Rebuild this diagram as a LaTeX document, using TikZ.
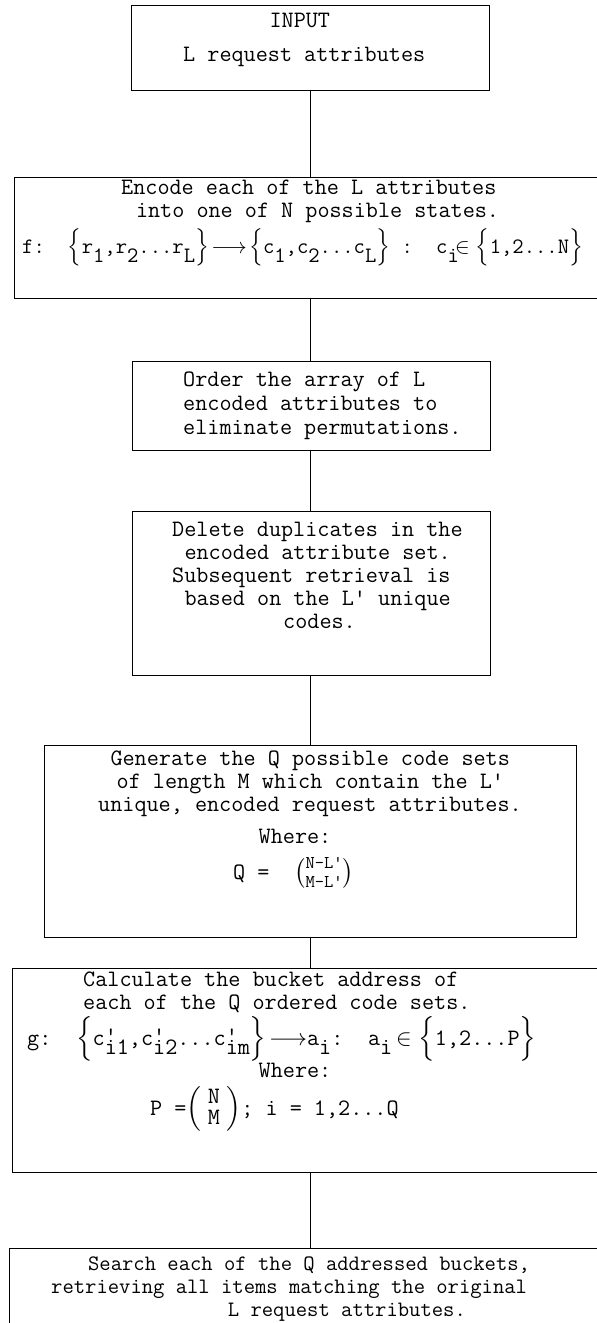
\RequirePackage{fix-cm}
\documentclass[tikz,border=0pt]{standalone}
\usepackage{amsmath}
% typewriter helpers
\newcommand\pad[1]{\hspace*{#1\dimexpr0.525em\relax}}
\newcommand\pr{\textquotesingle}
\newcommand\dn[1]{\raisebox{-0.42em}{#1}}
\newcommand\cp[1]{c\rlap{\raisebox{0.05em}{\pr}}\dn{#1}}
\newcommand\rows[2]{\begin{tabular}[t]{@{}#1@{}}#2\end{tabular}}
\newcommand\tw[2]{\ttfamily\frenchspacing\fontsize{#1}{#2}\selectfont}
\tikzset{
  box/.style={draw, line width=1.3pt, anchor=north west, inner sep=0pt},
  link/.style={line width=1.3pt},
  txt/.style={anchor=base west, inner sep=0pt, font=\tw{23.5}{23}},
  ctxt/.style={txt, anchor=base},
}
\begin{document}
\begin{tikzpicture}[x=1pt,y=-1pt]
\useasboundingbox (0,0) rectangle (597,1323);
\clip (0,0) rectangle (597,1323);

% process boxes
\node[box, minimum width=358, minimum height=85]  (b1) at (131,5)    {};
\node[box, minimum width=590, minimum height=121] (b2) at (14,177)   {};
\node[box, minimum width=358, minimum height=89]  (b3) at (132,361)  {};
\node[box, minimum width=358, minimum height=164] (b4) at (132,511)  {};
\node[box, minimum width=532, minimum height=192] (b5) at (44,745)   {};
\node[box, minimum width=594, minimum height=204] (b6) at (12,968)   {};
\node[box, minimum width=602, minimum height=120] (b7) at (9,1248)   {};

% connectors
\draw[link] (b1.south) -- (b1.south |- b2.north);
\draw[link] (b1.south |- b2.south) -- (b1.south |- b3.north);
\draw[link] (b1.south |- b3.south) -- (b1.south |- b4.north);
\draw[link] (b1.south |- b4.south) -- (b1.south |- b5.north);
\draw[link] (b1.south |- b5.south) -- (b1.south |- b6.north);
\draw[link] (b1.south |- b6.south) -- (b1.south |- b7.north);

% box 1
\node[txt, font=\tw{23.5}{34}] (t1) at (183,27) {\rows{l}{\pad{7}INPUT\\L request attributes}};

% box 2
\node[txt, font=\tw{23.5}{23}] (t2) at (121,194) {\rows{l}{Encode each of the L attributes\\\pad{1.2}into one of N possible states.}};
\node[txt, font=\tw{22}{22}] (f2) at (22,253) {f:\pad{2}$\Bigl\{$r\dn{1},r\dn{2}...r\dn{L}$\Bigr\}\!\longrightarrow\!\Bigl\{$c\dn{1},c\dn{2}...c\dn{L}$\Bigr\}$\pad{1}:\pad{2}c\dn{i}$\!\in\Bigl\{$1,2...N$\Bigr\}$};

% box 3
\node[txt, font=\tw{23.5}{24}] (t3) at (183,386) {\rows{l}{Order the array of L\\encoded attributes to\\eliminate permutations.}};

% box 4
\node[txt] (t4) at (172,536) {\rows{l}{Delete duplicates in the\\\pad{1}encoded attribute set.\\Subsequent retrieval is\\\pad{1}based on the L\pr{} unique\\\pad{9}codes.}};

% box 5
\node[txt] (t5) at (98,765) {\rows{l}{\pad{1}Generate the Q possible code sets\\\pad{1.5}of length M which contain the L\pr\\unique, encoded request attributes.}};
\node[ctxt] (w5) at (295,843) {Where:};
\node[txt] (q5) at (233,879) {Q =\pad{2}$\binom{\text{\fontsize{18}{18}\selectfont N-L\pr}}{\text{\fontsize{18}{18}\selectfont M-L\pr}}$};

% box 6
\node[txt] (t6) at (83,986) {\rows{l}{Calculate the bucket address of\\each of the Q ordered code sets.}};
\node[txt] (f6) at (27,1045) {g:\pad{2}$\Bigl\{$\cp{i1},\cp{i2}...\cp{im}$\Bigr\}\!\longrightarrow$a\dn{i}:\pad{2}a\dn{i}\,$\in\Bigl\{$1,2...P$\Bigr\}$};
\node[ctxt] (w6) at (295,1077) {Where:};
\node[txt] (p6) at (150,1115) {P =$\left(\;\begin{matrix}\text{N}\\[-2pt]\text{M}\end{matrix}\;\right)$; i = 1,2...Q};

% box 7
\node[txt, font=\tw{22}{23}] (t7) at (51,1270) {\rows{l}{\pad{3.2}Search each of the Q addressed buckets,\\retrieving all items matching the original\\\pad{15.3}L request attributes.}};
\end{tikzpicture}
\end{document}
